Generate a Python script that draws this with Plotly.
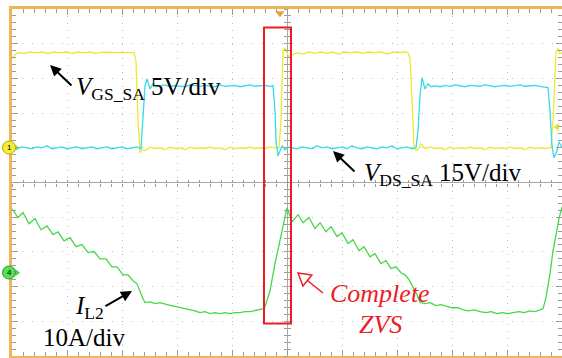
import plotly.graph_objects as go

# ---------------- data (time in us, 5.5 us/div) ----------------
# V_GS_SA (V), 5 V/div
vgs_points = [
    (-27.5, 12.8), (-27.2, 13.4), (-26.9, 13.7), (-26.3, 13.6), (-25.7, 13.8), (-25.1, 13.7),
    (-24.5, 13.8), (-23.9, 13.6), (-23.3, 13.8), (-22.7, 13.7), (-22.1, 13.8), (-21.5, 13.6),
    (-20.9, 13.8), (-20.3, 13.7), (-19.7, 13.8), (-19.1, 13.6), (-18.5, 13.8), (-17.9, 13.8),
    (-17.3, 13.7), (-16.7, 13.8), (-16.1, 13.7), (-15.6, 13.8), (-15.3, 13.7),
    (-15.1, 12.5), (-14.9, 3.9), (-14.7, -0.7), (-14.5, -0.3), (-14.2, -0.4),
    (-13.7, 0.1), (-13.2, -0.1), (-12.7, 0.0), (-12.2, -0.3), (-11.7, 0.1), (-11.2, -0.1),
    (-10.7, 0.0), (-10.2, -0.3), (-9.7, 0.1), (-9.2, -0.1), (-8.7, 0.0), (-8.2, -0.1),
    (-7.7, 0.1), (-7.2, -0.1), (-6.7, 0.0), (-6.2, -0.3), (-5.7, 0.1), (-5.2, -0.1),
    (-4.7, 0.0), (-4.2, -0.1), (-3.7, 0.1), (-3.2, -0.1), (-2.7, 0.0), (-2.2, -0.1),
    (-1.7, 0.1), (-1.2, 0.0), (-0.8, 0.0),
    (-0.6, 3.9), (-0.5, 9.7), (-0.4, 14.0), (-0.2, 14.4), (0.0, 13.8), (0.2, 13.1), (0.5, 13.4),
    (1.0, 13.7), (1.6, 13.5), (2.2, 13.8), (2.8, 13.6), (3.4, 13.8), (4.0, 13.6), (4.6, 13.8),
    (5.2, 13.5), (5.8, 13.8), (6.4, 13.7), (7.0, 13.8), (7.6, 13.6), (8.2, 13.8), (8.8, 13.7),
    (9.4, 13.8), (10.0, 13.5), (10.6, 13.8), (11.2, 13.7), (11.8, 13.8), (12.1, 13.7),
    (12.3, 12.8), (12.5, 6.8), (12.7, 0.3), (12.9, -0.4), (13.2, -0.1), (13.4, 0.6),
    (13.8, -0.1), (14.3, 0.1), (14.8, -0.1), (15.3, 0.0), (15.8, -0.3), (16.3, 0.1),
    (16.8, -0.1), (17.3, 0.0), (17.8, -0.1), (18.3, 0.1), (18.8, -0.1), (19.3, 0.0),
    (19.8, -0.3), (20.3, 0.1), (20.8, -0.1), (21.3, 0.0), (21.8, -0.1), (22.3, 0.1),
    (22.8, -0.1), (23.3, 0.0), (23.8, -0.3), (24.3, 0.1), (24.8, -0.1), (25.3, 0.0),
    (25.8, -0.1), (26.2, 0.0), (26.4, 0.0),
    (26.6, 3.9), (26.8, 11.1), (26.9, 13.7), (27.1, 14.3), (27.3, 13.5), (27.5, 13.7),
]

# V_DS_SA (V), 15 V/div
vds_points = [
    (-27.5, 0.0), (-27.0, -0.4), (-26.5, 0.4), (-26.0, 0.0), (-25.5, -0.4), (-25.0, 0.4),
    (-24.5, 0.0), (-24.0, 0.9), (-23.5, -0.4), (-23.0, 0.0), (-22.5, 0.4), (-22.0, -0.4),
    (-21.5, 0.0), (-21.0, 0.4), (-20.5, -0.4), (-20.0, 0.0), (-19.5, 0.4), (-19.0, -0.4),
    (-18.5, 0.0), (-18.0, 0.4), (-17.5, -0.4), (-17.0, 0.0), (-16.5, 0.4), (-16.0, -0.4),
    (-15.5, 0.0), (-15.0, 0.4), (-14.6, -0.4),
    (-14.4, 11.7), (-14.2, 26.8), (-14.0, 29.8), (-13.7, 25.5), (-13.4, 27.7), (-13.1, 26.4),
    (-12.7, 26.8), (-12.2, 27.2), (-11.7, 26.4), (-11.2, 27.0), (-10.7, 26.6), (-10.2, 26.4),
    (-9.7, 27.2), (-9.2, 26.8), (-8.7, 26.6), (-8.2, 27.0), (-7.7, 26.8), (-7.2, 26.4),
    (-6.7, 27.2), (-6.2, 26.6), (-5.7, 26.8), (-5.2, 27.0), (-4.7, 26.4), (-4.2, 26.8),
    (-3.7, 27.2), (-3.2, 26.6), (-2.7, 26.8), (-2.2, 27.0), (-1.7, 26.6), (-1.4, 26.8),
    (-1.2, 16.0), (-1.1, 3.0), (-0.9, -3.5), (-0.7, -1.3), (-0.5, 0.9), (-0.2, -0.9), (0.1, 0.4),
    (0.5, 0.0), (1.0, -0.4), (1.5, 0.4), (2.0, 0.0), (2.5, -0.4), (3.0, 0.9), (3.5, 0.0),
    (4.0, 0.4), (4.5, -0.4), (5.0, 0.0), (5.5, 0.4), (6.0, -0.4), (6.5, 0.9), (7.0, 0.0),
    (7.5, -0.4), (8.0, 0.4), (8.5, 0.0), (9.0, -0.4), (9.5, 0.4), (10.0, 0.0), (10.5, 0.9),
    (11.0, -0.4), (11.5, 0.0), (12.0, 0.4), (12.5, -0.4), (12.9, 0.0),
    (13.1, 7.3), (13.3, 22.5), (13.5, 30.3), (13.8, 25.5), (14.1, 27.7), (14.4, 26.4),
    (14.8, 26.8), (15.3, 26.4), (15.8, 27.0), (16.3, 26.6), (16.8, 27.2), (17.3, 26.8),
    (17.8, 26.4), (18.3, 27.0), (18.8, 26.8), (19.3, 26.6), (19.8, 27.2), (20.3, 26.8),
    (20.8, 26.4), (21.3, 26.8), (21.8, 27.0), (22.3, 26.6), (22.8, 26.8), (23.3, 27.2),
    (23.8, 26.6), (24.3, 26.8), (24.8, 27.0), (25.3, 26.6), (25.8, 26.4), (26.1, 26.0),
    (26.3, 16.0), (26.5, 0.9), (26.7, -4.3), (27.0, -1.3), (27.2, 2.6), (27.5, 0.0),
]

# I_L2 (A), 10 A/div
il2_points = [
    (-27.5, 18.4), (-26.9, 15.9), (-26.4, 17.3), (-25.8, 14.1), (-25.2, 15.6), (-24.6, 12.4),
    (-24.0, 13.5), (-23.4, 11.0), (-22.9, 11.8), (-22.3, 9.2), (-21.7, 10.1), (-21.1, 7.5),
    (-20.5, 8.1), (-19.9, 5.8), (-19.3, 6.1), (-18.7, 4.0), (-18.1, 4.0), (-17.5, 1.7),
    (-17.0, 1.7), (-16.4, -0.6), (-15.9, -0.6), (-15.4, -2.3), (-15.0, -3.2), (-14.7, -5.5),
    (-14.4, -7.5), (-14.2, -8.6),
    (-13.7, -8.4), (-13.2, -8.9), (-12.7, -8.6), (-12.0, -9.2), (-11.5, -9.5), (-10.9, -9.8),
    (-10.4, -10.1), (-9.7, -10.7), (-9.2, -11.0), (-8.7, -11.5), (-8.2, -11.2), (-7.7, -11.8),
    (-7.2, -11.5), (-6.7, -11.8), (-6.2, -11.5), (-5.7, -11.8), (-5.2, -11.5), (-4.7, -11.5),
    (-4.2, -11.2), (-3.7, -11.2), (-3.2, -10.9), (-2.7, -10.7), (-2.4, -10.4), (-2.2, -9.8),
    (-1.7, -5.2), (-1.2, 2.6), (-0.7, 9.2), (-0.3, 14.4), (0.0, 18.7),
    (0.5, 14.7), (1.1, 16.7), (1.6, 14.4), (2.2, 15.9), (2.8, 12.7), (3.3, 14.4),
    (3.9, 11.8), (4.4, 13.3), (5.0, 10.4), (5.5, 11.5), (6.1, 8.4), (6.6, 9.5),
    (7.2, 6.3), (7.7, 7.5), (8.3, 4.6), (8.8, 5.5), (9.4, 2.6), (9.9, 3.5),
    (10.4, 1.2), (10.9, 1.7), (11.4, 0.0), (11.8, -0.6), (12.2, -2.0), (12.6, -4.0),
    (13.0, -6.3), (13.3, -8.6),
    (13.8, -8.9), (14.3, -8.6), (14.9, -9.5), (15.4, -9.2), (16.0, -9.8), (16.5, -10.1),
    (17.1, -10.1), (17.6, -10.7), (18.2, -11.0), (18.7, -10.7), (19.3, -11.2), (19.9, -11.5),
    (20.4, -11.2), (21.0, -11.8), (21.5, -11.5), (22.1, -11.8), (22.6, -11.5), (23.2, -11.2),
    (23.7, -11.5), (24.3, -11.0), (24.8, -11.2), (25.3, -10.7), (25.6, -10.4),
    (25.9, -7.2), (26.3, -0.3), (26.6, 6.3), (26.9, 11.5), (27.2, 15.6), (27.5, 19.0),
]

t_vgs, v_gs = zip(*vgs_points)
t_vds, v_ds = zip(*vds_points)
t_il2, i_l2 = zip(*il2_points)

# scope settings
T_RANGE = [-27.5, 27.5]        # 10 div x 5.5 us
VGS_RANGE = [-30, 20]          # 5 V/div, ground +1 div
VDS_RANGE = [-90, 60]          # 15 V/div, ground +1 div
IL2_RANGE = [-24, 76]          # 10 A/div, zero -2.6 div

YELLOW = '#ece92e'
CYAN = '#38d9e8'
GREEN = '#45d845'
ORANGE = '#f0b45a'
TICK = '#9a9a9a'
GRID = '#bdbdbd'
RED = '#ee1c24'
FONT = 'Liberation Serif'

W, H = 562, 358
ML, MR, MT, MB = 12, 0, 9, 2
PW, PH = W - ML - MR, H - MT - MB


def P(px, py):
    return (px - ML) / PW, (H - MB - py) / PH


fig = go.Figure()
fig.add_trace(go.Scatter(x=t_il2, y=i_l2, yaxis='y4', mode='lines',
                         line=dict(color=GREEN, width=1.3), hoverinfo='skip'))
fig.add_trace(go.Scatter(x=t_vds, y=v_ds, yaxis='y3', mode='lines',
                         line=dict(color=CYAN, width=1.3), hoverinfo='skip'))
fig.add_trace(go.Scatter(x=t_vgs, y=v_gs, yaxis='y2', mode='lines',
                         line=dict(color=YELLOW, width=1.3), hoverinfo='skip'))

# dummy traces to instantiate decoration axes
for xa, ya in [('x2', 'y'), ('x3', 'y'), ('x', 'y5'), ('x', 'y6'), ('x', 'y7')]:
    fig.add_trace(go.Scatter(x=[None], y=[None], xaxis=xa, yaxis=ya, mode='lines',
                             hoverinfo='skip', showlegend=False))

# small channel arrows next to the ground markers
fig.add_trace(go.Scatter(x=[T_RANGE[0] + 0.5], y=[0], yaxis='y2', mode='markers',
                         marker=dict(symbol='triangle-right', size=6, color='#e8e030'),
                         cliponaxis=False, hoverinfo='skip'))
fig.add_trace(go.Scatter(x=[T_RANGE[0] + 0.5], y=[0], yaxis='y4', mode='markers',
                         marker=dict(symbol='triangle-right', size=6, color=GREEN),
                         cliponaxis=False, hoverinfo='skip'))
# trigger position / level markers
fig.add_trace(go.Scatter(x=[-0.7], y=[4.88], yaxis='y', mode='markers',
                         marker=dict(symbol='triangle-down', size=8, color='#f0a030'),
                         cliponaxis=False, hoverinfo='skip'))
fig.add_trace(go.Scatter(x=[27.0], y=[3.0], yaxis='y2', mode='markers',
                         marker=dict(symbol='triangle-left', size=7, color='#e8e030'),
                         cliponaxis=False, hoverinfo='skip'))

hidden = dict(overlaying='y', visible=False, showgrid=False, zeroline=False, fixedrange=True)

fig.update_layout(
    width=W, height=H,
    margin=dict(l=ML, r=MR, t=MT, b=MB),
    paper_bgcolor='white', plot_bgcolor='white',
    showlegend=False, hovermode=False,
    xaxis=dict(range=T_RANGE, showgrid=True, dtick=5.5, tick0=0,
               gridcolor=GRID, griddash='1px,6px', gridwidth=1,
               zeroline=True, zerolinecolor='#a8a8a8', zerolinewidth=1,
               showline=True, linecolor=ORANGE, linewidth=3, mirror='ticks',
               ticks='inside', ticklen=6, tickcolor=TICK, tickwidth=1,
               showticklabels=False,
               minor=dict(dtick=1.1, tick0=0, ticks='inside', ticklen=4,
                          tickcolor=TICK, showgrid=False)),
    xaxis2=dict(range=T_RANGE, overlaying='x', anchor='free', position=0.5,
                showgrid=False, zeroline=False, showline=False,
                ticks='outside', ticklen=3, dtick=1.1, tick0=0, tickcolor=TICK,
                showticklabels=False),
    xaxis3=dict(range=T_RANGE, overlaying='x', anchor='free', position=0.5,
                showgrid=False, zeroline=False, showline=False,
                ticks='inside', ticklen=3, dtick=1.1, tick0=0, tickcolor=TICK,
                showticklabels=False),
    yaxis=dict(range=[-5, 5], showgrid=True, dtick=1, tick0=0,
               gridcolor=GRID, griddash='1px,9px', gridwidth=1,
               zeroline=True, zerolinecolor='#a8a8a8', zerolinewidth=1,
               showline=True, linecolor=ORANGE, linewidth=3, mirror=False,
               ticks='inside', ticklen=6, tickcolor=TICK,
               showticklabels=False,
               minor=dict(dtick=0.2, tick0=0, ticks='inside', ticklen=4,
                          tickcolor=TICK, showgrid=False)),
    yaxis2=dict(range=VGS_RANGE, **hidden),
    yaxis3=dict(range=VDS_RANGE, **hidden),
    yaxis4=dict(range=IL2_RANGE, **hidden),
    yaxis5=dict(range=[-5, 5], overlaying='y', side='right', anchor='x',
                showgrid=False, zeroline=False, showline=False,
                ticks='inside', ticklen=6, dtick=1, tick0=0, tickcolor=TICK,
                showticklabels=False,
                minor=dict(dtick=0.2, tick0=0, ticks='inside', ticklen=4, tickcolor=TICK)),
    yaxis6=dict(range=[-5, 5], overlaying='y', anchor='free', position=0.5,
                showgrid=False, zeroline=False, showline=False,
                ticks='outside', ticklen=3, dtick=0.2, tick0=0, tickcolor=TICK,
                showticklabels=False),
    yaxis7=dict(range=[-5, 5], overlaying='y', anchor='free', position=0.5,
                showgrid=False, zeroline=False, showline=False,
                ticks='inside', ticklen=3, dtick=0.2, tick0=0, tickcolor=TICK,
                showticklabels=False),
)

# channel ground markers (circles on the left border)
for cy, fill, edge, num in [(147.5, '#f2ee3a', '#b8a800', '1'), (272.5, '#55e055', '#2a9a2a', '4')]:
    x0, y0 = P(2.5, cy + 6.5)
    x1, y1 = P(15.5, cy - 6.5)
    fig.add_shape(type='circle', xref='paper', yref='paper', x0=x0, y0=y0, x1=x1, y1=y1,
                  fillcolor=fill, line=dict(color=edge, width=1), layer='above')
    cx, cyp = P(9, cy)
    fig.add_annotation(text=num, x=cx, y=cyp, xref='paper', yref='paper',
                       xanchor='center', yanchor='middle', showarrow=False,
                       font=dict(family='Arial', size=8, color='black'))

# red highlight box
fig.add_shape(type='rect', xref='x', yref='y', x0=-2.3, x1=0.4, y0=-4.06, y1=4.47,
              line=dict(color=RED, width=2), fillcolor='rgba(0,0,0,0)')

# hollow red arrow
sx0, sy0 = P(323, 293)
sx1, sy1 = P(307.4, 280.5)
fig.add_shape(type='line', xref='paper', yref='paper', x0=sx0, y0=sy0, x1=sx1, y1=sy1,
              line=dict(color=RED, width=1.5))
tx, ty = P(298, 273)
c1x, c1y = P(311.8, 275.0)
c2x, c2y = P(303.0, 286.0)
fig.add_shape(type='path', xref='paper', yref='paper',
              path=f'M{tx},{ty} L{c1x},{c1y} L{c2x},{c2y} Z',
              line=dict(color=RED, width=1.5), fillcolor='white')

# labels
def label(text, px, py, size, color='black', xanchor='left'):
    x, y = P(px, py)
    fig.add_annotation(text=text, x=x, y=y, xref='paper', yref='paper',
                       xanchor=xanchor, yanchor='middle', showarrow=False,
                       font=dict(family=FONT, size=size, color=color))

label('<i>V</i><sub>GS_SA</sub> 5V/div', 74, 88, 25)
label('<i>V</i><sub>DS_SA</sub> 15V/div', 362, 175, 25)
label('<i>I</i><sub>L2</sub>', 73, 307, 25)
label('10A/div', 41, 337, 25)
label('<i>Complete</i>', 380, 293, 26, RED, 'center')
label('<i>ZVS</i>', 380, 324, 26, RED, 'center')

# black arrows
def arrow(hx, hy, tx_, ty_):
    x, y = P(hx, hy)
    fig.add_annotation(text='', x=x, y=y, xref='paper', yref='paper',
                       ax=tx_ - hx, ay=ty_ - hy, showarrow=True,
                       arrowhead=2, arrowsize=1.1, arrowwidth=2, arrowcolor='black')

arrow(50, 65, 73, 87)
arrow(333, 151, 356, 173)
arrow(132, 291, 104, 307)

fig.write_html('out.html')
